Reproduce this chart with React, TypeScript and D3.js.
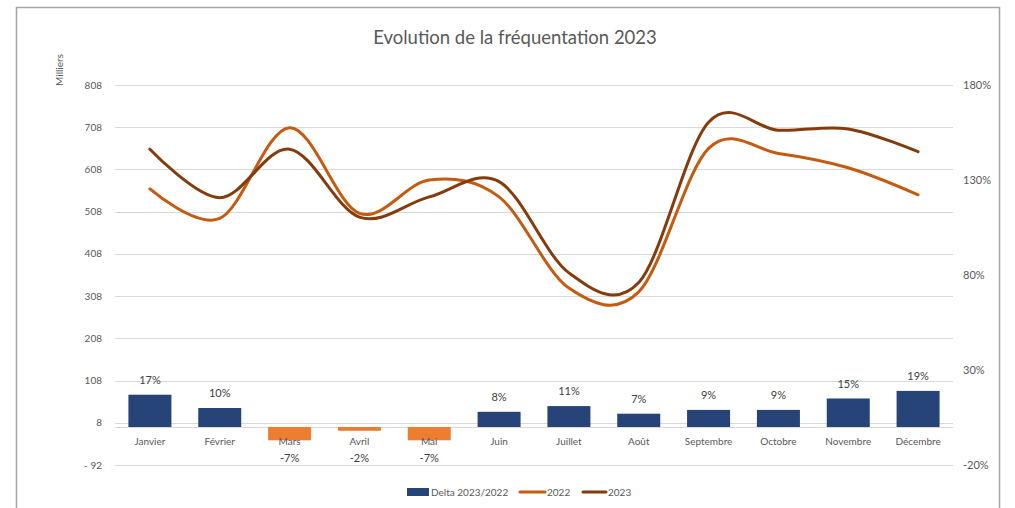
import { useRef, useEffect } from "react";
import * as d3 from "d3";

// data
const months = ["Janvier", "Février", "Mars", "Avril", "Mai", "Juin", "Juillet", "Août", "Septembre", "Octobre", "Novembre", "Décembre"];
const visits2022 = [562, 492, 707, 504, 583, 543, 327, 318, 658, 646, 612, 548];
const visits2023 = [656, 541, 656, 495, 543, 579, 363, 340, 720, 701, 704, 650];
const delta = [17, 10, -7, -2, -7, 8, 11, 7, 9, 9, 15, 19];
const leftTicks = [-92, 8, 108, 208, 308, 408, 508, 608, 708, 808];
const rightTicks = [-20, 30, 80, 130, 180];

const App = () => {
	const svgRef = useRef(null);

	useEffect(() => {
		const w = 1015;
		const h = 508;
		const svg = d3.select(svgRef.current);
		svg.selectAll("*").remove();
		svg.attr("width", w).attr("height", h);

		const font = "Lato, 'Open Sans', sans-serif";
		const grey = "#595959";

		// chart frame
		svg.append("path")
			.attr("d", `M16.5,${h} L16.5,7.5 L999.5,7.5 L999.5,${h}`)
			.attr("fill", "none")
			.attr("stroke", "#a6a6a6")
			.attr("stroke-width", 1.5);

		svg.append("text")
			.attr("x", 515)
			.attr("y", 44)
			.attr("text-anchor", "middle")
			.attr("font-family", font)
			.attr("font-size", 18.5)
			.attr("fill", grey)
			.text("Evolution de la fréquentation 2023");

		const x = d3.scaleBand().domain(months).range([115, 953]);
		const yL = d3.scaleLinear().domain([-92, 808]).range([465, 85]);
		const yR = d3.scaleLinear().domain([-20, 180]).range([465, 85]);

		// grid
		svg.append("g")
			.selectAll("line")
			.data(leftTicks)
			.join("line")
			.attr("x1", 115)
			.attr("x2", 953)
			.attr("y1", d => Math.round(yL(d)) + 0.5)
			.attr("y2", d => Math.round(yL(d)) + 0.5)
			.attr("stroke", "#d9d9d9");
		svg.append("line")
			.attr("x1", 115)
			.attr("x2", 953)
			.attr("y1", Math.round(yR(0)) + 0.5)
			.attr("y2", Math.round(yR(0)) + 0.5)
			.attr("stroke", "#d9d9d9");

		// left axis
		svg.append("g")
			.selectAll("text")
			.data(leftTicks)
			.join("text")
			.attr("x", 102)
			.attr("y", d => yL(d) + 3.5)
			.attr("text-anchor", "end")
			.attr("font-family", font)
			.attr("font-size", 10)
			.attr("fill", grey)
			.text(d => (d < 0 ? `- ${-d}` : `${d}`));

		svg.append("text")
			.attr("transform", "translate(63,70) rotate(-90)")
			.attr("text-anchor", "middle")
			.attr("font-family", font)
			.attr("font-size", 10)
			.attr("fill", grey)
			.text("Milliers");

		// right axis
		svg.append("g")
			.selectAll("text")
			.data(rightTicks)
			.join("text")
			.attr("x", 963)
			.attr("y", d => yR(d) + 4)
			.attr("font-family", font)
			.attr("font-size", 11)
			.attr("fill", grey)
			.text(d => `${d}%`);

		// bars
		const bw = 43;
		svg.append("g")
			.selectAll("rect")
			.data(delta)
			.join("rect")
			.attr("x", (d, i) => x(months[i]) + x.bandwidth() / 2 - bw / 2)
			.attr("y", d => Math.min(yR(d), yR(0)))
			.attr("width", bw)
			.attr("height", d => Math.abs(yR(d) - yR(0)))
			.attr("fill", d => (d < 0 ? "#ed7d31" : "#264478"));

		// category labels
		svg.append("g")
			.selectAll("text")
			.data(months)
			.join("text")
			.attr("x", d => x(d) + x.bandwidth() / 2)
			.attr("y", yR(0) + 18)
			.attr("text-anchor", "middle")
			.attr("font-family", font)
			.attr("font-size", 10)
			.attr("fill", grey)
			.text(d => d);

		// bar labels
		svg.append("g")
			.selectAll("text")
			.data(delta)
			.join("text")
			.attr("x", (d, i) => x(months[i]) + x.bandwidth() / 2)
			.attr("y", d => (d < 0 ? yR(0) + 35 : yR(d) - 11))
			.attr("text-anchor", "middle")
			.attr("font-family", font)
			.attr("font-size", 11)
			.attr("fill", "#404040")
			.text(d => `${d}%`);

		// lines
		const line = d3.line()
			.x((d, i) => x(months[i]) + x.bandwidth() / 2)
			.y(d => yL(d))
			.curve(d3.curveCatmullRom.alpha(0));

		svg.append("path")
			.datum(visits2022)
			.attr("fill", "none")
			.attr("stroke", "#c55a11")
			.attr("stroke-width", 3)
			.attr("stroke-linecap", "round")
			.attr("d", line);
		svg.append("path")
			.datum(visits2023)
			.attr("fill", "none")
			.attr("stroke", "#843c0c")
			.attr("stroke-width", 3)
			.attr("stroke-linecap", "round")
			.attr("d", line);

		// legend
		const lg = svg.append("g").attr("font-family", font).attr("font-size", 10).attr("fill", grey);
		lg.append("rect").attr("x", 407).attr("y", 488).attr("width", 22).attr("height", 8).attr("fill", "#264478");
		lg.append("text").attr("x", 431).attr("y", 495.5).text("Delta 2023/2022");
		lg.append("line").attr("x1", 520).attr("x2", 545).attr("y1", 492).attr("y2", 492)
			.attr("stroke", "#c55a11").attr("stroke-width", 3).attr("stroke-linecap", "round");
		lg.append("text").attr("x", 547).attr("y", 495.5).text("2022");
		lg.append("line").attr("x1", 583).attr("x2", 606).attr("y1", 492).attr("y2", 492)
			.attr("stroke", "#843c0c").attr("stroke-width", 3).attr("stroke-linecap", "round");
		lg.append("text").attr("x", 608).attr("y", 495.5).text("2023");
	}, []);

	return (
		<svg ref={svgRef} style={{ position: "absolute", left: 0, top: 0, background: "#fff" }}></svg>
	);
};

export default App;
